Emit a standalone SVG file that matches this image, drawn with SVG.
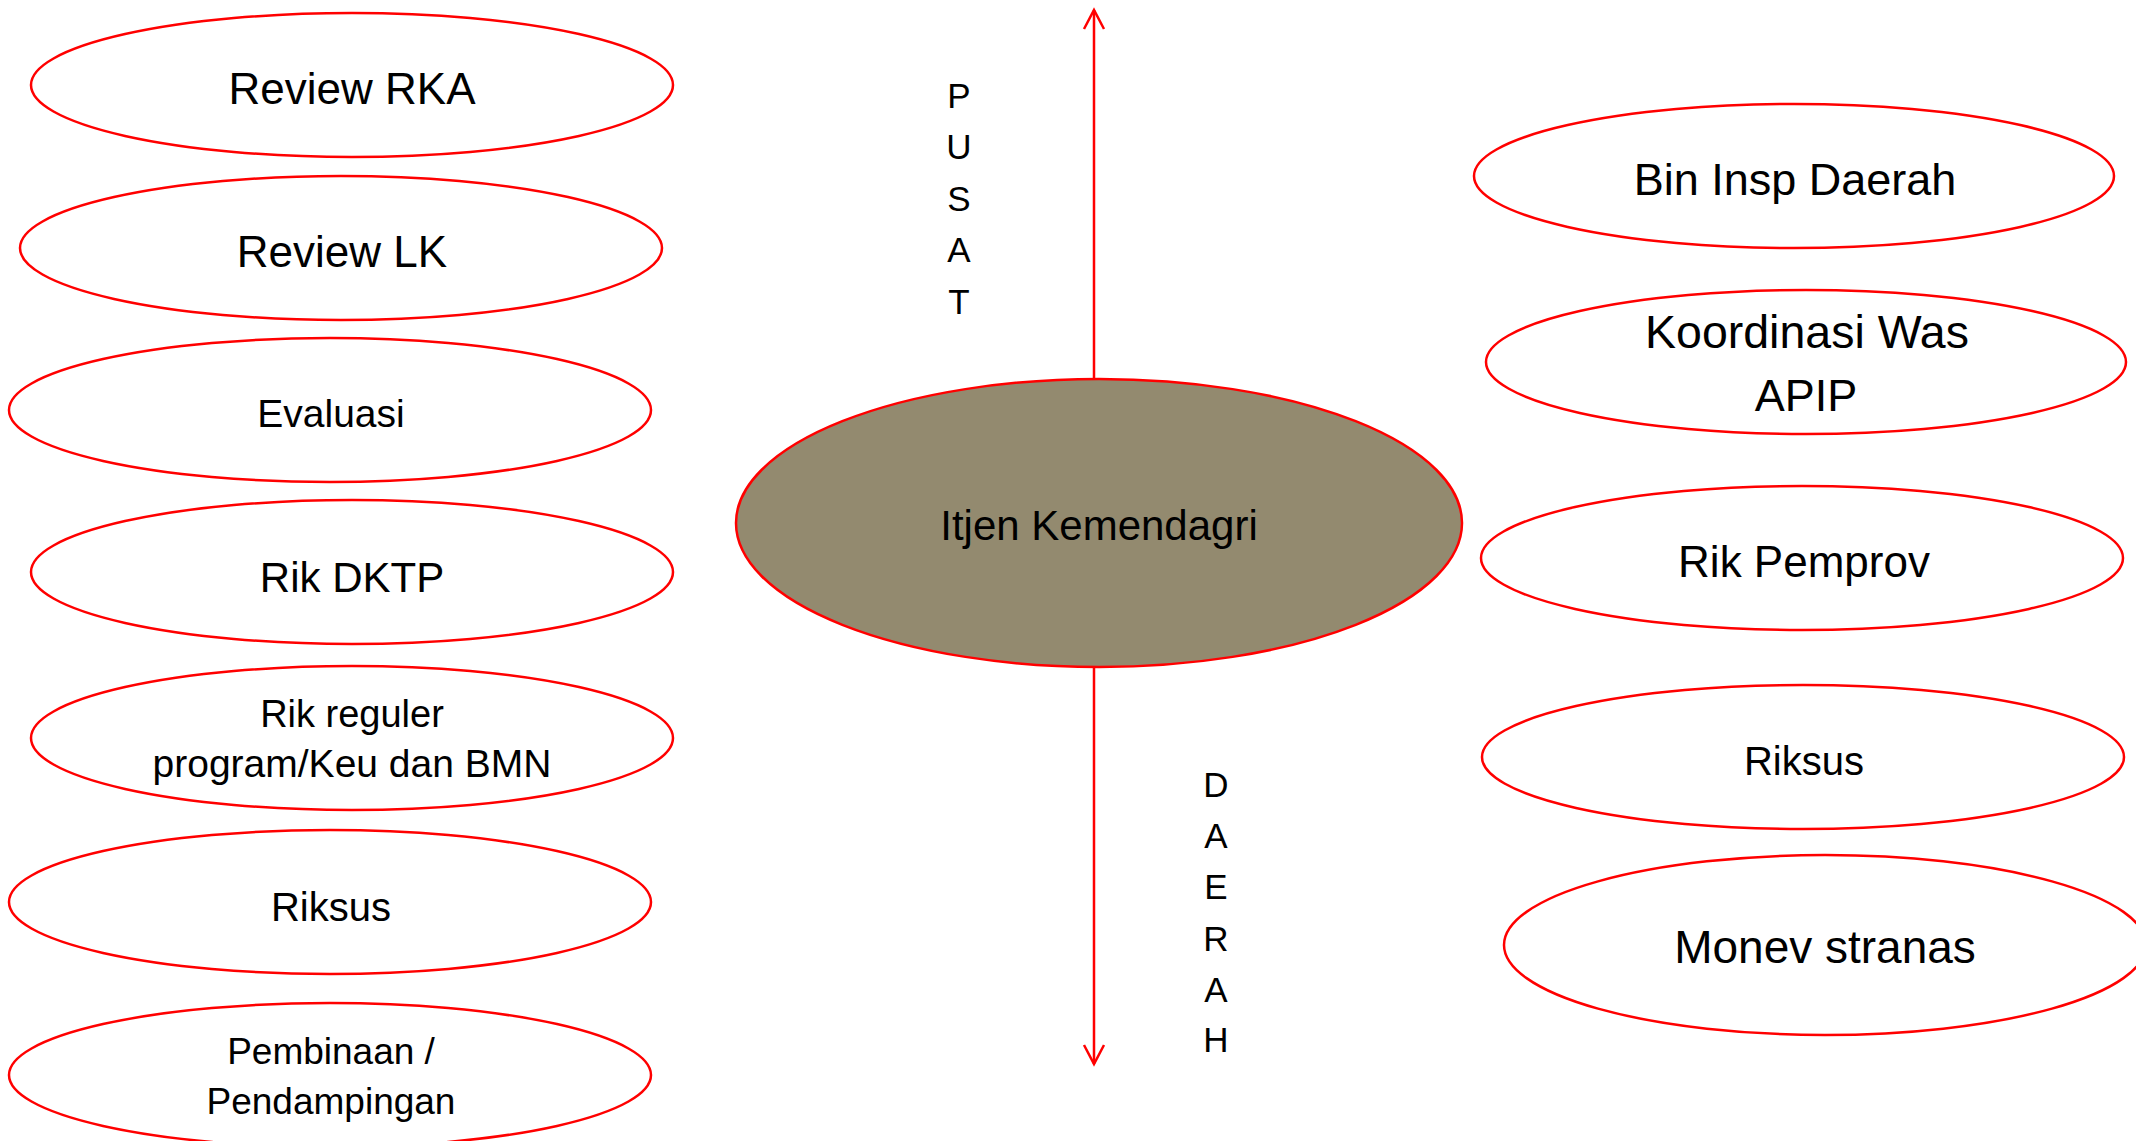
<svg xmlns="http://www.w3.org/2000/svg" width="2136" height="1141" viewBox="0 0 2136 1141">
<defs>
<style>
.n{fill:#fff;stroke:#ff0000;stroke-width:2.5}
.c{fill:#938a6f;stroke:#ff0000;stroke-width:2.5}
text{font-family:"Liberation Sans",Arial,sans-serif;fill:#000;text-anchor:middle}
.e{stroke:#ff0000;stroke-width:2.5;fill:none}
.l{font-size:35px}
</style>
<marker id="ah" viewBox="0 0 24 24" refX="20" refY="12" markerWidth="24" markerHeight="24" markerUnits="userSpaceOnUse" orient="auto">
<path d="M1,2 L20,12 L1,22" fill="none" stroke="#ff0000" stroke-width="2.5"/>
</marker>
</defs>
<rect width="2136" height="1141" fill="#fff"/>
<g id="connectors">
<line class="e" x1="1094" y1="379" x2="1094" y2="10" marker-end="url(#ah)"/>
<line class="e" x1="1094" y1="667" x2="1094" y2="1064" marker-end="url(#ah)"/>
</g>
<g id="label-pusat" class="l">
<text x="959" y="108">P</text>
<text x="959" y="159">U</text>
<text x="959" y="211">S</text>
<text x="959" y="262">A</text>
<text x="959" y="314">T</text>
</g>
<g id="label-daerah" class="l">
<text x="1216" y="797">D</text>
<text x="1216" y="848">A</text>
<text x="1216" y="899">E</text>
<text x="1216" y="951">R</text>
<text x="1216" y="1002">A</text>
<text x="1216" y="1052">H</text>
</g>
<g id="center">
<ellipse class="c" cx="1099" cy="523" rx="363" ry="144"/>
<text x="1099" y="540" font-size="42">Itjen Kemendagri</text>
</g>
<g id="review-rka">
<ellipse class="n" cx="352" cy="85" rx="321" ry="72"/>
<text x="352" y="104" font-size="44">Review RKA</text>
</g>
<g id="review-lk">
<ellipse class="n" cx="341" cy="248" rx="321" ry="72"/>
<text x="342" y="267" font-size="44">Review LK</text>
</g>
<g id="evaluasi">
<ellipse class="n" cx="330" cy="410" rx="321" ry="72"/>
<text x="331" y="427" font-size="39">Evaluasi</text>
</g>
<g id="rik-dktp">
<ellipse class="n" cx="352" cy="572" rx="321" ry="72"/>
<text x="352" y="592" font-size="42">Rik DKTP</text>
</g>
<g id="rik-reguler">
<ellipse class="n" cx="352" cy="738" rx="321" ry="72"/>
<text x="352" y="727" font-size="38">Rik reguler</text>
<text x="352" y="777" font-size="39">program/Keu dan BMN</text>
</g>
<g id="riksus-left">
<ellipse class="n" cx="330" cy="902" rx="321" ry="72"/>
<text x="331" y="921" font-size="40">Riksus</text>
</g>
<g id="pembinaan">
<ellipse class="n" cx="330" cy="1075" rx="321" ry="72"/>
<text x="331" y="1064" font-size="37">Pembinaan  /</text>
<text x="331" y="1114" font-size="37">Pendampingan</text>
</g>
<g id="bin-insp-daerah">
<ellipse class="n" cx="1794" cy="176" rx="320" ry="72"/>
<text x="1795" y="195" font-size="45">Bin Insp Daerah</text>
</g>
<g id="koordinasi-was-apip">
<ellipse class="n" cx="1806" cy="362" rx="320" ry="72"/>
<text x="1807" y="348" font-size="46.5">Koordinasi Was</text>
<text x="1806" y="411" font-size="45">APIP</text>
</g>
<g id="rik-pemprov">
<ellipse class="n" cx="1802" cy="558" rx="321" ry="72"/>
<text x="1804" y="577" font-size="44">Rik Pemprov</text>
</g>
<g id="riksus-right">
<ellipse class="n" cx="1803" cy="757" rx="321" ry="72"/>
<text x="1804" y="775" font-size="40">Riksus</text>
</g>
<g id="monev-stranas">
<ellipse class="n" cx="1825" cy="945" rx="321" ry="90"/>
<text x="1825" y="963" font-size="46">Monev stranas</text>
</g>
</svg>
